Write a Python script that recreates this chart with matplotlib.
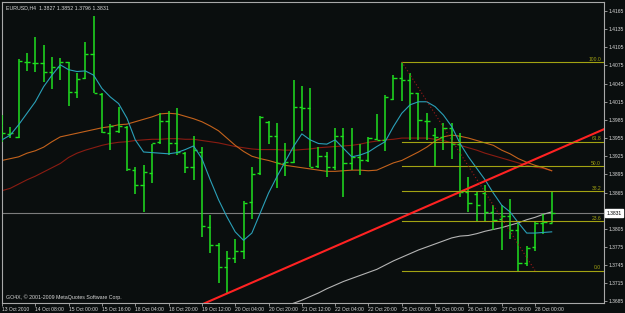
"""
EURUSD H4 bar chart, MetaTrader style
"""

import matplotlib
matplotlib.use("Agg")
import matplotlib.pyplot as plt
import matplotlib.transforms as mtransforms
import numpy as np

# --- data ---
bar_open = [1.3977, 1.3961, 1.3957, 1.4081, 1.4079, 1.4079, 1.4065, 1.4073, 1.4080, 1.4031,
            1.4055, 1.4094, 1.4028, 1.3964, 1.3966, 1.3974, 1.3902, 1.3877, 1.3898, 1.3949,
            1.3984, 1.3947, 1.3930, 1.3908, 1.3932, 1.3808, 1.3778, 1.3742, 1.3756, 1.3769,
            1.3850, 1.3897, 1.3982, 1.3958, 1.3914, 1.3916, 1.4006, 1.4004, 1.3909, 1.3926,
            1.3908, 1.3958, 1.3913, 1.3924, 1.3919, 1.3953, 1.3952, 1.4019, 1.4055, 1.4051,
            1.4029, 1.3984, 1.3960, 1.3957, 1.3971, 1.3946, 1.3866, 1.3862, 1.3864, 1.3832,
            1.3821, 1.3826, 1.3803, 1.3748, 1.3775, 1.3815, 1.3815]
bar_high = [1.3993, 1.3974, 1.4085, 1.4095, 1.4122, 1.4109, 1.4089, 1.4087, 1.4080, 1.4062,
            1.4113, 1.4157, 1.4030, 1.3979, 1.4006, 1.3975, 1.3908, 1.3910, 1.3946, 1.3996,
            1.3999, 1.4004, 1.3932, 1.3958, 1.3941, 1.3828, 1.3782, 1.3769, 1.3789, 1.3851,
            1.3908, 1.3991, 1.3984, 1.3980, 1.3947, 1.4051, 1.4041, 1.4037, 1.3940, 1.3932,
            1.3972, 1.3971, 1.3972, 1.3946, 1.3956, 1.3994, 1.4026, 1.4059, 1.4081, 1.4062,
            1.4029, 1.3996, 1.3971, 1.3980, 1.3980, 1.3963, 1.3891, 1.3866, 1.3877, 1.3844,
            1.3844, 1.3854, 1.3814, 1.3777, 1.3817, 1.3829, 1.3868]
bar_low = [1.3948, 1.3955, 1.3955, 1.4066, 1.4064, 1.4047, 1.4036, 1.4051, 1.4008, 1.4022,
           1.4053, 1.4029, 1.3963, 1.3935, 1.3964, 1.3901, 1.3862, 1.3832, 1.3881, 1.3945,
           1.3927, 1.3927, 1.3897, 1.3886, 1.3791, 1.3765, 1.3715, 1.3698, 1.3748, 1.3755,
           1.3822, 1.3894, 1.3945, 1.3872, 1.3893, 1.3914, 1.3966, 1.3907, 1.3905, 1.3890,
           1.3902, 1.3858, 1.3902, 1.3894, 1.3915, 1.3952, 1.3934, 1.4018, 1.4016, 1.3952,
           1.3952, 1.3952, 1.3908, 1.3935, 1.3921, 1.3857, 1.3833, 1.3817, 1.3817, 1.3803,
           1.3770, 1.3789, 1.3736, 1.3744, 1.3769, 1.3796, 1.3814]
bar_close = [1.3963, 1.3963, 1.4083, 1.4080, 1.4079, 1.4064, 1.4073, 1.4080, 1.4031, 1.4053,
             1.4094, 1.4030, 1.3965, 1.3975, 1.3975, 1.3904, 1.3877, 1.3899, 1.3947, 1.3984,
             1.3947, 1.3932, 1.3908, 1.3935, 1.3810, 1.3778, 1.3742, 1.3756, 1.3769, 1.3848,
             1.3896, 1.3989, 1.3958, 1.3914, 1.3916, 1.4006, 1.4004, 1.3908, 1.3926, 1.3908,
             1.3958, 1.3913, 1.3924, 1.3919, 1.3955, 1.3952, 1.4023, 1.4055, 1.4051, 1.4029,
             1.3985, 1.3984, 1.3957, 1.3971, 1.3946, 1.3866, 1.3847, 1.3844, 1.3832, 1.3820,
             1.3826, 1.3803, 1.3748, 1.3774, 1.3815, 1.3817, 1.3831]

ma_fast = [1.3952, 1.3960, 1.3977, 1.3996, 1.4015, 1.4040, 1.4059, 1.4076, 1.4068, 1.4065,
           1.4066, 1.4059, 1.4037, 1.4023, 1.4012, 1.3988, 1.3952, 1.3932, 1.3931, 1.3930,
           1.3929, 1.3931, 1.3936, 1.3942, 1.3921, 1.3886, 1.3853, 1.3825, 1.3800, 1.3786,
           1.3798, 1.3831, 1.3864, 1.3891, 1.3916, 1.3941, 1.3962, 1.3952, 1.3946, 1.3945,
           1.3952, 1.3938, 1.3924, 1.3927, 1.3932, 1.3941, 1.3949, 1.3974, 1.3996, 1.4010,
           1.4015, 1.4015, 1.4007, 1.3993, 1.3974, 1.3946, 1.3924, 1.3905, 1.3886, 1.3864,
           1.3844, 1.3833, 1.3815, 1.3798, 1.3798, 1.3799, 1.3800]
ma_mid = [1.3918, 1.3921, 1.3924, 1.3930, 1.3934, 1.3940, 1.3949, 1.3957, 1.3960, 1.3963,
          1.3966, 1.3969, 1.3972, 1.3974, 1.3977, 1.3978, 1.3982, 1.3986, 1.3990, 1.3995,
          1.3996, 1.3995, 1.3991, 1.3987, 1.3982, 1.3975, 1.3967, 1.3955, 1.3943, 1.3933,
          1.3925, 1.3921, 1.3918, 1.3914, 1.3910, 1.3908, 1.3906, 1.3904, 1.3902, 1.3900,
          1.3900, 1.3901, 1.3902, 1.3902, 1.3901, 1.3902, 1.3908, 1.3914, 1.3918, 1.3925,
          1.3932, 1.3940, 1.3950, 1.3957, 1.3960, 1.3958, 1.3955, 1.3951, 1.3947, 1.3943,
          1.3935, 1.3929, 1.3921, 1.3915, 1.3910, 1.3906, 1.3901]
ma_slow = [1.3868, 1.3872, 1.3879, 1.3886, 1.3892, 1.3899, 1.3906, 1.3913, 1.3923, 1.3930,
           1.3935, 1.3939, 1.3943, 1.3946, 1.3948, 1.3949, 1.3951, 1.3952, 1.3953, 1.3953,
           1.3954, 1.3954, 1.3953, 1.3953, 1.3951, 1.3949, 1.3947, 1.3944, 1.3941, 1.3939,
           1.3937, 1.3936, 1.3936, 1.3936, 1.3935, 1.3935, 1.3936, 1.3937, 1.3939, 1.3940,
           1.3941, 1.3942, 1.3943, 1.3945, 1.3948, 1.3950, 1.3952, 1.3953, 1.3955, 1.3955,
           1.3955, 1.3955, 1.3953, 1.3951, 1.3947, 1.3943, 1.3939, 1.3935, 1.3930, 1.3926,
           1.3922, 1.3918, 1.3914, 1.3910, 1.3907, 1.3905, 1.3901]
ma_long_start = 35
ma_long = [1.3682, 1.3687, 1.3693, 1.3699, 1.3706, 1.3712, 1.3718, 1.3723, 1.3728, 1.3733,
           1.3738, 1.3745, 1.3752, 1.3758, 1.3764, 1.3770, 1.3775, 1.3780, 1.3785, 1.3790,
           1.3793, 1.3794, 1.3797, 1.3801, 1.3804, 1.3807, 1.3811, 1.3815, 1.3820, 1.3824,
           1.3829, 1.3833]

# trendline anchors (bar index, price)
trend_x = [27, 60]
trend_y = [1.3698, 1.3896]

# fibonacci anchors (bar index, price)
fib_x = [48, 64]
fib_y = [1.4081, 1.3736]
fib_levels = [0.0, 23.6, 38.2, 50.0, 61.8, 100.0]

last_price = 1.3831
title = "EURUSD,H4  1.3827 1.3852 1.3796 1.3831"

x_labels = ["13 Oct 2010", "14 Oct 08:00", "15 Oct 00:00", "15 Oct 16:00", "18 Oct 04:00",
            "18 Oct 20:00", "19 Oct 12:00", "20 Oct 04:00", "20 Oct 20:00", "21 Oct 12:00",
            "22 Oct 04:00", "22 Oct 20:00", "25 Oct 08:00", "26 Oct 00:00", "26 Oct 16:00",
            "27 Oct 08:00", "28 Oct 00:00"]
price_ticks = [1.3685, 1.3715, 1.3745, 1.3775, 1.3805, 1.3865, 1.3895, 1.3925, 1.3955,
               1.3985, 1.4015, 1.4045, 1.4075, 1.4105, 1.4135, 1.4165]

BG = "#0a0e0e"
TXT = "#d8d8d8"
BAR = "#1fe01f"
FS = 3.6

plt.rcParams['font.family'] = ['Liberation Sans', 'DejaVu Sans']


def main():
    fig = plt.figure(figsize=(6.25, 3.13), dpi=100)
    fig.patch.set_facecolor(BG)
    ax = fig.add_axes([2 / 625, 10 / 313, 602 / 625, 301 / 313])
    ax.set_facecolor(BG)

    n = len(bar_close)
    idx = np.arange(n)
    ax.set_xlim(0.04, 72.28)
    ax.set_ylim(1.36824, 1.41799)

    # current price line
    ax.axhline(last_price, color="#7c7c7c", lw=0.8, zorder=1)

    # moving averages
    ax.plot(idx, ma_slow, color="#8a1c12", lw=0.8, zorder=2)
    ax.plot(idx, ma_mid, color="#c3621c", lw=0.8, zorder=2)
    ax.plot(np.arange(ma_long_start, ma_long_start + len(ma_long)), ma_long,
            color="#b4b4b4", lw=0.8, zorder=2)
    ax.plot(idx, ma_fast, color="#2aa0b8", lw=0.8, zorder=4)

    # OHLC bars
    tick = 0.38
    ax.vlines(idx, bar_low, bar_high, color=BAR, lw=1.1, zorder=3)
    ax.hlines(bar_open, idx - tick, idx, color=BAR, lw=1.0, zorder=3)
    ax.hlines(bar_close, idx, idx + tick, color=BAR, lw=1.0, zorder=3)

    # trendline, extended both ways
    slope = (trend_y[1] - trend_y[0]) / (trend_x[1] - trend_x[0])
    tx = np.array([0, 75])
    ax.plot(tx, trend_y[0] + slope * (tx - trend_x[0]), color="#ff2222", lw=1.5, zorder=5)

    # fibonacci retracement
    lo, hi = min(fib_y), max(fib_y)
    x_end = ax.get_xlim()[1]
    for lev in fib_levels:
        y = lo + (hi - lo) * lev / 100.0
        ax.plot([fib_x[0], x_end], [y, y], color="#a3a312", lw=0.8, zorder=5)
        ax.text(x_end - 0.35, y + 0.00004, f"{lev:.1f}", color="#a3a312", fontsize=FS,
                ha="right", va="bottom", zorder=6)
    ax.plot(fib_x, fib_y, color="#a01818", lw=0.8, ls=(0, (1, 2)), zorder=5)

    # axes look
    for s in ax.spines.values():
        s.set_color("#a8a8a8")
        s.set_linewidth(0.8)
    ax.yaxis.tick_right()
    ax.set_yticks(price_ticks)
    ax.set_yticklabels([f"{p:.4f}" for p in price_ticks])
    ax.set_xticks(np.arange(0, 4 * len(x_labels), 4))
    ax.set_xticklabels(x_labels, ha="left")
    ax.tick_params(axis="both", colors="#a8a8a8", labelcolor=TXT, labelsize=FS,
                   length=2, width=0.6, pad=1)

    # current price box on the price scale
    trans = mtransforms.blended_transform_factory(ax.transAxes, ax.transData)
    ax.text(1.0045, last_price, f"{last_price:.4f}", transform=trans, fontsize=FS,
            color="black", ha="left", va="center", clip_on=False,
            bbox=dict(boxstyle="square,pad=0.3", facecolor="white", edgecolor="white"))

    ax.text(0.006, 0.988, title, transform=ax.transAxes, fontsize=FS + 0.2, color=TXT,
            ha="left", va="top")
    ax.text(0.006, 0.018, "GO4X, \u00a9 2001-2009 MetaQuotes Software Corp.",
            transform=ax.transAxes, fontsize=FS + 0.2, color=TXT, ha="left", va="center")

    plt.savefig("out.png", dpi=100, facecolor=BG)
    plt.close()


if __name__ == "__main__":
    main()
